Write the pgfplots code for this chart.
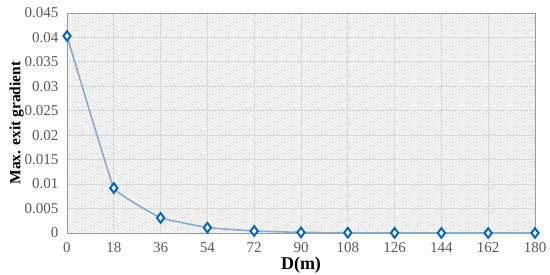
\documentclass[border=0pt]{standalone}
\usepackage{fontspec}
\setmainfont{Liberation Serif}
\usepackage{pgfplots}
\pgfplotsset{compat=1.18}
\usetikzlibrary{patterns}
\definecolor{linec}{RGB}{131,172,222}
\definecolor{markc}{RGB}{0,102,204}
\definecolor{tickc}{RGB}{89,89,89}
\definecolor{gridc}{RGB}{217,217,217}
\begin{document}
\begin{tikzpicture}
\begin{axis}[
  name=ax,
  scale only axis,
  width=468pt, height=220pt,
  xmin=0, xmax=180, ymin=0, ymax=0.045,
  xtick={0,18,...,180},
  ytick={0,0.005,0.01,0.015,0.02,0.025,0.03,0.035,0.04,0.045},
  yticklabels={0,0.005,0.01,0.015,0.02,0.025,0.03,0.035,0.04,0.045},
  scaled y ticks=false,
  /pgf/number format/assume math mode=true,
  tick label style={font=\fontsize{15}{16}\selectfont, text=tickc},
  yticklabel style={xshift=-5pt},
  xticklabel style={yshift=-6pt},
  major tick length=0pt,
  grid=major,
  major grid style={gridc, line width=0.9pt},
  axis line style={gray!80, line width=0.8pt},
  axis background/.style={preaction={fill=white}, pattern=north west lines, pattern color=gray!28},
  xlabel={\textbf{D(m)}},
  ylabel={\textbf{Max. exit gradient}},
  xlabel style={font=\fontsize{18}{19}\selectfont, yshift=3pt},
  ylabel style={font=\fontsize{15.5}{16}\selectfont, yshift=-6pt},
  clip=false,
]
\addplot[linec, line width=1.6pt, smooth, tension=0.12,
  mark=diamond*, mark size=4.8pt,
  mark options={draw=markc, fill=white, line width=2pt}]
coordinates {
(0,0.0403) (18,0.0092) (36,0.0031) (54,0.0011) (72,0.0004) (90,0.00012)
(108,0.00005) (126,0.00002) (144,0.00001) (162,0.0) (180,0.0)
};
\end{axis}
\pgfresetboundingbox
\path[use as bounding box] ([xshift=-67pt,yshift=-42pt]ax.south west) rectangle ([xshift=15pt,yshift=13pt]ax.north east);
\end{tikzpicture}
\end{document}
